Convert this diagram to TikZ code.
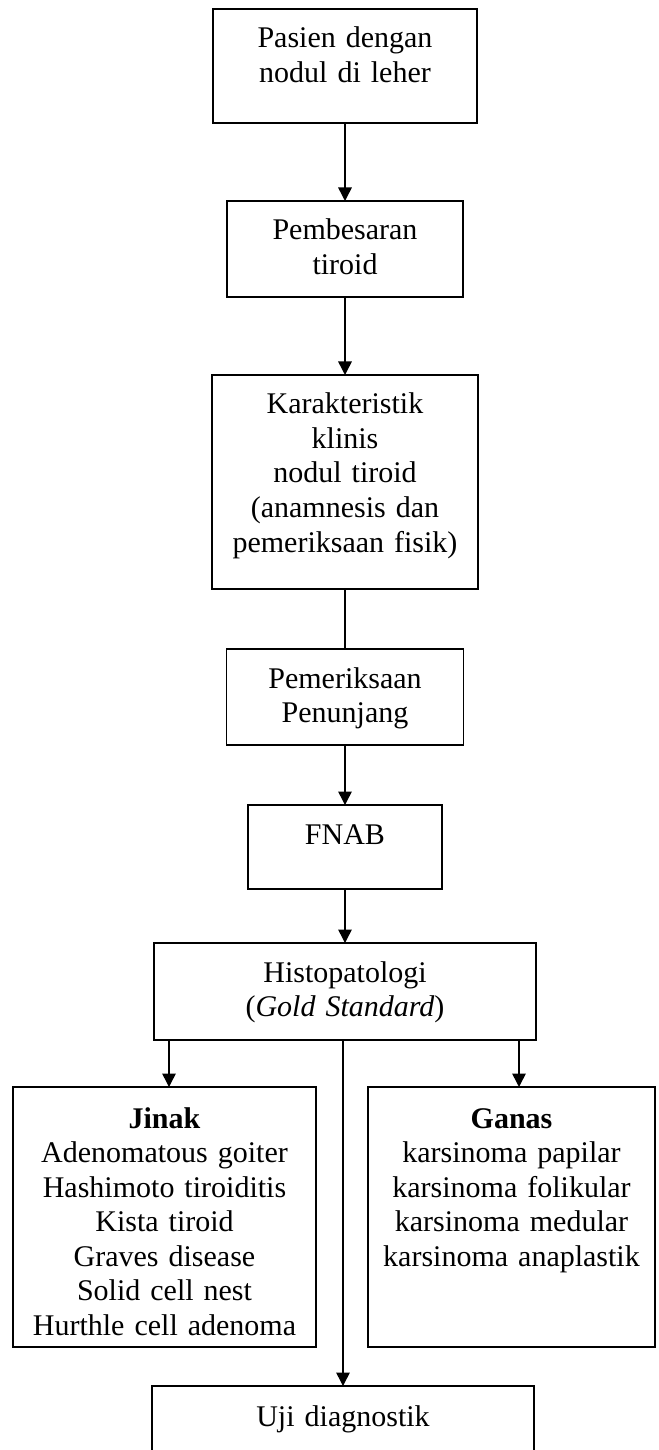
\documentclass[tikz,border=0pt]{standalone}
\usepackage{fontspec}
\setmainfont{Liberation Serif}
\usetikzlibrary{arrows.meta, positioning}

\begin{document}
\begin{tikzpicture}[node distance=24pt, auto,
          box/.style={rectangle, draw=black, line width=0.6pt, inner xsep=0pt, inner ysep=0pt, outer sep=0pt, align=center, text height=15.6pt, font=\fontsize{12}{13.8}\selectfont},
          arrow/.style={-{Triangle[width=5.4pt,length=5.4pt]}, line width=0.6pt},
          link/.style={line width=0.6pt}]

        \useasboundingbox (0,0) rectangle (263.2pt,-580pt);

        \node [box, anchor=north, text width=105.6pt, text depth=30pt] (pasien) at (138pt,-3.6pt) {Pasien dengan\\nodul di leher};
        \node [box, below=31.2pt of pasien, text width=94.4pt, text depth=22.8pt] (pembesaran) {Pembesaran\\tiroid};
        \node [box, below=31.2pt of pembesaran, text width=106.4pt, text depth=70pt] (klinis) {Karakteristik\\klinis\\nodul tiroid\\(anamnesis dan\\pemeriksaan fisik)};
        \node [box, below=24pt of klinis, text width=94.8pt, text depth=22.8pt] (penunjang) {Pemeriksaan\\Penunjang};
        \node [box, below=24pt of penunjang, text width=77.6pt, text depth=18pt] (fnab) {FNAB};
        \node [box, below=21.6pt of fnab, text width=152.8pt, text depth=23.2pt] (histo) {Histopatologi\\(\textit{Gold Standard})};
        \node [box, below=18.8pt of histo, xshift=-72.2pt, text width=121.2pt, text height=16.4pt, text depth=87.6pt] (jinak) {\textbf{Jinak}\\Adenomatous goiter\\Hashimoto tiroiditis\\Kista tiroid\\Graves disease\\Solid cell nest\\Hurthle cell adenoma};
        \node [box, below=18.8pt of histo, xshift=66.6pt, text width=114.8pt, text height=16.4pt, text depth=87.6pt] (ganas) {\textbf{Ganas}\\karsinoma papilar\\karsinoma folikular\\karsinoma medular\\karsinoma anaplastik};
        \node [box, below=138.4pt of histo, xshift=-0.8pt, text width=152.8pt, text height=16pt, text depth=60pt] (uji) {Uji diagnostik};

        % titik masuk panah cabang
        \coordinate (jinak_in) at ([xshift=1.8pt]jinak.north);
        \coordinate (ganas_in) at ([xshift=3pt]ganas.north);

        \draw [arrow] (pasien) -- (pembesaran);
        \draw [arrow] (pembesaran) -- (klinis);
        \draw [link] (klinis) -- (penunjang);
        \draw [arrow] (penunjang) -- (fnab);
        \draw [arrow] (fnab) -- (histo);
        \draw [arrow] (jinak_in |- histo.south) -- (jinak_in);
        \draw [arrow] (ganas_in |- histo.south) -- (ganas_in);
        \draw [arrow] (uji.north |- histo.south) -- (uji.north);
      \end{tikzpicture}
\end{document}
